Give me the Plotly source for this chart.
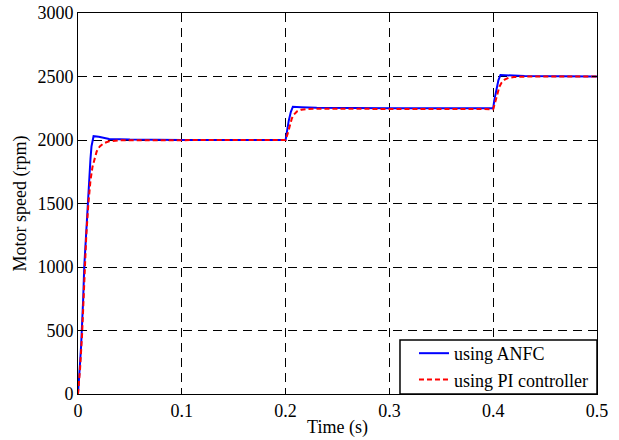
import plotly.graph_objects as go

# ANFC response
t_anfc = [0, 0.001, 0.002, 0.003, 0.004, 0.005, 0.006, 0.007, 0.008, 0.009, 0.010,
          0.011, 0.012, 0.013, 0.014, 0.015, 0.020, 0.025, 0.030, 0.050, 0.100, 0.200,
          0.201, 0.203, 0.205, 0.207, 0.215, 0.230, 0.300, 0.400,
          0.401, 0.403, 0.405, 0.407, 0.415, 0.430, 0.500]
v_anfc = [0, 100, 250, 380, 520, 750, 1000, 1150, 1350, 1500, 1650,
          1750, 1850, 1950, 2010, 2030, 2025, 2015, 2008, 2003, 2000, 2000,
          2060, 2150, 2220, 2262, 2258, 2253, 2250, 2250,
          2310, 2400, 2470, 2512, 2508, 2503, 2500]

# PI controller response
t_pi = [0, 0.002, 0.004, 0.006, 0.008, 0.010, 0.012, 0.014, 0.016, 0.018, 0.021,
        0.025, 0.030, 0.040, 0.100, 0.200,
        0.202, 0.204, 0.206, 0.208, 0.211, 0.215, 0.220, 0.230, 0.300, 0.400,
        0.402, 0.404, 0.406, 0.408, 0.411, 0.415, 0.420, 0.430, 0.500]
v_pi = [0, 200, 480, 900, 1250, 1500, 1680, 1790, 1860, 1910, 1950,
        1975, 1990, 1998, 1999, 2000,
        2050, 2120, 2170, 2200, 2225, 2238, 2244, 2246, 2245, 2243,
        2300, 2370, 2420, 2450, 2475, 2490, 2496, 2499, 2500]

x_ticks = [0, 0.1, 0.2, 0.3, 0.4, 0.5]
x_labels = ["0", "0.1", "0.2", "0.3", "0.4", "0.5"]
y_ticks = [0, 500, 1000, 1500, 2000, 2500, 3000]

font = "Liberation Serif"

fig = go.Figure()
fig.add_trace(go.Scatter(x=t_anfc, y=v_anfc, mode="lines", name="using ANFC",
                         line=dict(color="#0000ff", width=2)))
fig.add_trace(go.Scatter(x=t_pi, y=v_pi, mode="lines", name="using PI controller",
                         line=dict(color="#ff0000", width=2, dash="5px,3px")))

axis_common = dict(
    showline=True, linecolor="black", linewidth=1, mirror="ticks",
    ticks="inside", ticklen=5, tickcolor="black",
    showgrid=True, gridcolor="black", gridwidth=1, griddash="9px,6px",
    zeroline=False, automargin=False,
    tickfont=dict(family=font, size=18, color="black"),
)

fig.update_xaxes(range=[0, 0.5], tickvals=x_ticks, ticktext=x_labels,
                 title=dict(text="Time (s)", font=dict(family=font, size=18, color="black"), standoff=0),
                 **axis_common)
fig.update_yaxes(range=[0, 3000], tickvals=y_ticks,
                 title=dict(text="Motor speed (rpm)", font=dict(family=font, size=18, color="black"), standoff=6),
                 **axis_common)

# legend frame (white box with black border, covering the grid)
leg_x0 = 0.6204
leg_y1 = 0.1417
fig.add_shape(type="rect", xref="paper", yref="paper",
              x0=leg_x0, x1=1, y0=0, y1=leg_y1,
              fillcolor="white", line=dict(color="black", width=1.5), layer="above")

fig.update_layout(
    width=619, height=440,
    margin=dict(l=78, r=22, t=13, b=46),
    plot_bgcolor="white", paper_bgcolor="white",
    font=dict(family=font, color="black"),
    legend=dict(x=leg_x0, y=0.1549, xanchor="left", yanchor="top",
                bgcolor="rgba(0,0,0,0)", borderwidth=0, indentation=14,
                font=dict(family=font, size=18, color="black"),
                tracegroupgap=0),
)

fig.write_html("out.html", config={"displayModeBar": False},
               post_script="document.body.style.margin='0';document.body.style.overflow='hidden';")
